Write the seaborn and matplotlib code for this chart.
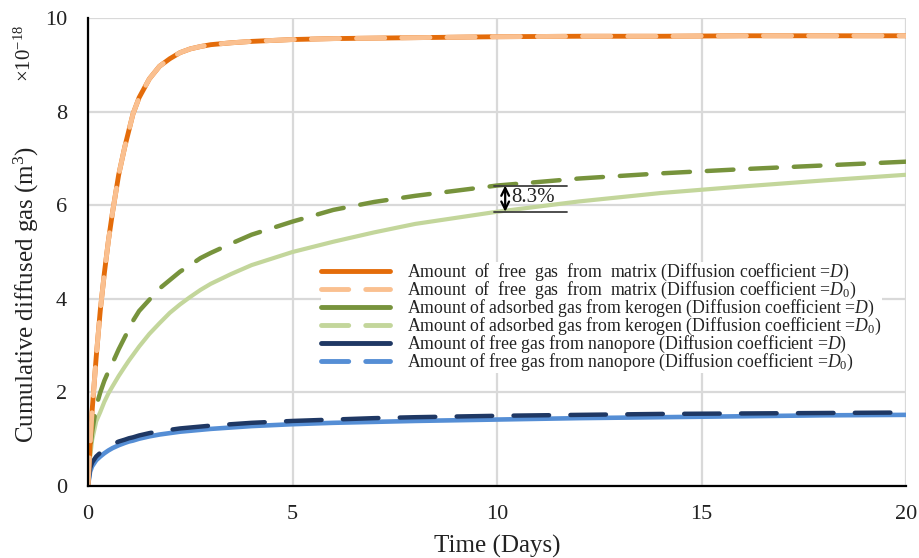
import matplotlib
matplotlib.use("Agg")
import matplotlib.pyplot as plt
from matplotlib.lines import Line2D
import seaborn as sns
import numpy as np

# ---- data (values x 1e-18 m^3) ----
time_days = [0, 0.05, 0.1, 0.2, 0.3, 0.4, 0.5, 0.6, 0.75, 0.9, 1.0, 1.1, 1.25, 1.5, 1.75,
             2, 2.25, 2.5, 2.75, 3, 3.5, 4, 5, 6, 7, 8, 10, 12, 14, 16, 18, 20]
matrix_D = [0, 0.85, 1.6, 2.75, 3.75, 4.55, 5.25, 5.85, 6.65, 7.25, 7.6, 7.95, 8.3, 8.7, 8.97,
            9.13, 9.26, 9.34, 9.39, 9.43, 9.47, 9.5, 9.54, 9.56, 9.57, 9.58, 9.6, 9.61, 9.61,
            9.62, 9.62, 9.62]
matrix_D0 = [0, 0.85, 1.6, 2.75, 3.75, 4.55, 5.25, 5.85, 6.65, 7.25, 7.6, 7.95, 8.3, 8.7, 8.97,
             9.13, 9.26, 9.34, 9.39, 9.43, 9.47, 9.5, 9.54, 9.56, 9.57, 9.58, 9.6, 9.61, 9.61,
             9.62, 9.62, 9.62]
kerogen_D = [0, 0.75, 1.15, 1.7, 2.0, 2.25, 2.45, 2.63, 2.92, 3.18, 3.35, 3.53, 3.74, 3.98, 4.22,
             4.4, 4.58, 4.72, 4.87, 4.98, 5.18, 5.37, 5.65, 5.9, 6.07, 6.2, 6.42, 6.57, 6.68,
             6.77, 6.85, 6.93]
kerogen_D0 = [0, 0.6, 0.98, 1.38, 1.58, 1.8, 1.98, 2.13, 2.35, 2.55, 2.68, 2.8, 2.98, 3.25, 3.48,
              3.7, 3.88, 4.04, 4.19, 4.32, 4.53, 4.72, 5.0, 5.22, 5.42, 5.6, 5.86, 6.08, 6.26,
              6.4, 6.53, 6.65]
nano_D = [0, 0.38, 0.5, 0.63, 0.71, 0.78, 0.84, 0.89, 0.95, 0.99, 1.02, 1.04, 1.08, 1.13, 1.17,
          1.2, 1.23, 1.25, 1.27, 1.29, 1.32, 1.35, 1.39, 1.42, 1.45, 1.47, 1.5, 1.52, 1.54,
          1.55, 1.56, 1.57]
nano_D0 = [0, 0.3, 0.42, 0.55, 0.63, 0.7, 0.76, 0.81, 0.87, 0.92, 0.95, 0.97, 1.01, 1.06, 1.1,
           1.13, 1.16, 1.18, 1.2, 1.22, 1.25, 1.28, 1.32, 1.35, 1.37, 1.39, 1.42, 1.45, 1.47,
           1.49, 1.51, 1.52]

labels = [
    "Amount  of  free  gas  from  matrix (Diffusion coefficient =$D$)",
    "Amount  of  free  gas  from  matrix (Diffusion coefficient =$D_0$)",
    "Amount of adsorbed gas from kerogen (Diffusion coefficient =$D$)",
    "Amount of adsorbed gas from kerogen (Diffusion coefficient =$D_0$)",
    "Amount of free gas from nanopore (Diffusion coefficient =$D$)",
    "Amount of free gas from nanopore (Diffusion coefficient =$D_0$)",
]
colors = ["#E46C0A", "#FAC090", "#77933C", "#C3D69B", "#1F3864", "#558ED5"]
x_ticks = [0, 5, 10, 15, 20]
y_ticks = [0, 2, 4, 6, 8, 10]

sns.set_theme(style="white")
plt.rcParams["font.family"] = ["Liberation Serif", "DejaVu Serif"]
plt.rcParams["mathtext.fontset"] = "custom"
plt.rcParams["mathtext.rm"] = "Liberation Serif"
plt.rcParams["mathtext.it"] = "Liberation Serif:italic"

fig = plt.figure(figsize=(9.19, 5.58), dpi=100)
ax = fig.add_axes([88 / 919, 72 / 558, 818 / 919, 468 / 558])

t = np.array(time_days)
common = dict(ax=ax, estimator=None, sort=False, legend=False)

# matrix: dark solid underneath, light dashed on top
sns.lineplot(x=t, y=matrix_D, color=colors[0], lw=3.5, zorder=5, **common)
sns.lineplot(x=t, y=matrix_D0, color=colors[1], lw=3.5, zorder=6,
             linestyle=(0, (5.8, 3.5)), dash_capstyle="round", **common)
# kerogen: light solid, dark dashed
sns.lineplot(x=t, y=kerogen_D0, color=colors[3], lw=3.0, zorder=3,
             solid_capstyle="round", **common)
sns.lineplot(x=t, y=kerogen_D, color=colors[2], lw=3.2, zorder=4,
             linestyle=(0, (6.0, 3.8)), dash_capstyle="round", **common)
# nanopore: light solid, dark dashed
sns.lineplot(x=t, y=nano_D0, color=colors[5], lw=3.3, zorder=3, **common)
sns.lineplot(x=t, y=nano_D, color=colors[4], lw=3.2, zorder=4,
             linestyle=(0, (8.0, 4.8)), dash_capstyle="round", **common)

ax.set_xlim(0, 20)
ax.set_ylim(0, 10)
ax.set_xticks(x_ticks)
ax.set_yticks(y_ticks)
ax.set_xticklabels([str(v) for v in x_ticks])
ax.set_yticklabels([str(v) for v in y_ticks])
ax.grid(True, color="#D9D9D9", lw=1.6, zorder=0)
ax.set_axisbelow(True)
for s in ["top", "right"]:
    ax.spines[s].set_visible(False)
for s in ["left", "bottom"]:
    ax.spines[s].set_color("black")
    ax.spines[s].set_linewidth(1.6)
    ax.spines[s].set_zorder(7)
ax.tick_params(axis="both", direction="in", length=4, width=1.6, color="black",
               labelsize=16, labelcolor="#222222")
ax.tick_params(axis="y", pad=15)
ax.tick_params(axis="x", pad=14)

ax.set_xlabel("Time (Days)", fontsize=18, color="#222222")
ax.set_ylabel("Cumulative diffused gas (m$^3$)", fontsize=18, color="#222222")
ax.xaxis.set_label_coords(0.5, -0.105)
ax.yaxis.set_label_coords(-0.058, 0.41)

fig.text(25 / 919, 1 - 53 / 558, r"$\times$10$^{\mathregular{-18}}$", rotation=90,
         fontsize=15, ha="center", va="center", color="#222222")

# annotation of difference at t = 10
i10 = time_days.index(10)
y_hi, y_lo = kerogen_D[i10], kerogen_D0[i10]
for yy in (y_hi, y_lo):
    ax.plot([9.92, 11.7], [yy, yy], color="#404040", lw=1.3, zorder=8)
ax.annotate("", xy=(10.2, y_lo), xytext=(10.2, y_hi),
            arrowprops=dict(arrowstyle="<->", color="black", lw=1.6,
                            shrinkA=0, shrinkB=0, mutation_scale=14), zorder=8)
ax.text(10.35, (y_hi + y_lo) / 2 + 0.02, "8.3%", fontsize=15, va="center", ha="left",
        color="#222222", zorder=8)

dash_leg = (0, (5.6, 3.5))
handles = [
    Line2D([], [], color=colors[0], lw=3.5, solid_capstyle="round"),
    Line2D([], [], color=colors[1], lw=3.5, linestyle=dash_leg, dash_capstyle="round"),
    Line2D([], [], color=colors[2], lw=3.5, solid_capstyle="round"),
    Line2D([], [], color=colors[3], lw=3.5, linestyle=dash_leg, dash_capstyle="round"),
    Line2D([], [], color=colors[4], lw=3.5, solid_capstyle="round"),
    Line2D([], [], color=colors[5], lw=3.5, linestyle=dash_leg, dash_capstyle="round"),
]
leg = ax.legend(handles, labels, loc="center left", bbox_to_anchor=(0.285, 0.36),
                frameon=True, facecolor="white", edgecolor="none", fontsize=12.8,
                handlelength=3.9, handletextpad=0.95, labelspacing=-0.18,
                borderpad=0.0, borderaxespad=0, framealpha=1)
for tx in leg.get_texts():
    tx.set_color("#222222")
leg.set_zorder(9)

fig.savefig("out.png", dpi=100)
